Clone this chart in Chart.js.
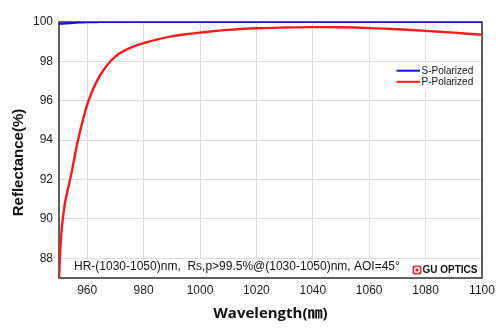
<!DOCTYPE html>
<html>
<head>
<meta charset="utf-8">
<script src="https://cdn.jsdelivr.net/npm/chart.js@4.4.1/dist/chart.umd.min.js"></script>
<style>
  html, body { margin: 0; padding: 0; background: #fff; }
  #wrap { width: 500px; height: 334px; }
</style>
</head>
<body>
<div id="wrap"><canvas id="c" width="500" height="334"></canvas></div>
<script>
// ---- data ----
const wavelengths = [950,950.5,951,952,953,954,955,956,957,958,959,960,961,962,964,966,968,970,972,975,978,980,985,990,995,1000,1010,1020,1030,1040,1050,1060,1070,1080,1090,1100];
const pPolarized  = [87.0,88.5,89.55,90.7,91.4,92.05,92.75,93.5,94.15,94.75,95.3,95.8,96.2,96.56,97.15,97.6,97.97,98.24,98.45,98.67,98.84,98.93,99.12,99.27,99.38,99.46,99.6,99.68,99.72,99.74,99.73,99.69,99.63,99.55,99.46,99.35];
const sPolarized  = [99.9,99.905,99.91,99.92,99.93,99.94,99.95,99.96,99.97,99.975,99.98,99.985,99.988,99.99,99.995,100,100,100,100,100,100,100,100,100,100,100,100,100,100,100,100,100,100,100,100,100];
const seriesLabels = ['S-Polarized', 'P-Polarized'];
const xTickValues = [960,980,1000,1020,1040,1060,1080,1100];
const yTickValues = [88,90,92,94,96,98,100];
const annotationText = 'HR-(1030-1050)nm,  Rs,p>99.5%@(1030-1050)nm, AOI=45°';
const logoText = 'GU OPTICS';
const xTitle = 'Wavelength(㎚)';
const yTitle = 'Reflectance(%)      ';

const toPoints = (xs, ys) => xs.map((x, i) => ({x: x, y: ys[i]}));

const decor = {
  id: 'decor',
  beforeDatasetsDraw(chart) {
    const {ctx, chartArea: a, scales} = chart;
    const y88 = scales.y.getPixelForValue(88);
    const y98 = scales.y.getPixelForValue(98);
    ctx.save();
    ctx.fillStyle = '#fff';
    ctx.fillRect(a.left + 3, y88 + 1, a.right - a.left - 4, a.bottom - y88 - 2);
    ctx.fillRect(393, y98 + 1, a.right - 393 - 1, 28);
    ctx.strokeStyle = '#3a3a3a';
    ctx.lineWidth = 1.6;
    ctx.strokeRect(a.left, a.top, a.right - a.left, a.bottom - a.top);
    ctx.restore();
  },
  afterDatasetsDraw(chart) {
    const {ctx, chartArea: a, data} = chart;
    ctx.save();
    ctx.fillStyle = '#111';
    ctx.font = '12px "Liberation Sans", Arial, sans-serif';
    ctx.textBaseline = 'middle';
    ctx.textAlign = 'left';
    ctx.fillText(annotationText, a.left + 15, 267);
    const ix = 412.5, iy = 265.5, is = 9;
    ctx.fillStyle = '#e8262d';
    ctx.beginPath();
    if (ctx.roundRect) ctx.roundRect(ix, iy, is, is, 2); else ctx.rect(ix, iy, is, is);
    ctx.fill();
    ctx.fillStyle = '#fff';
    ctx.beginPath(); ctx.arc(ix + is/2, iy + is/2, 3.2, 0, Math.PI*2); ctx.fill();
    ctx.fillStyle = '#e8262d';
    ctx.beginPath(); ctx.arc(ix + is/2, iy + is/2, 1.7, 0, Math.PI*2); ctx.fill();
    ctx.fillStyle = '#111';
    ctx.font = 'bold 10px "Liberation Sans", Arial, sans-serif';
    ctx.fillText(logoText, 422.5, 270.5);
    ctx.font = '10px "Liberation Sans", Arial, sans-serif';
    const rows = [70.7, 81.8];
    data.datasets.forEach((ds, i) => {
      const y = rows[i];
      ctx.strokeStyle = ds.borderColor;
      ctx.lineWidth = 2;
      ctx.beginPath(); ctx.moveTo(396.5, y); ctx.lineTo(420, y); ctx.stroke();
      ctx.fillStyle = '#111';
      ctx.fillText(ds.label, 421.5, y + 0.5);
    });
    ctx.restore();
  }
};

new Chart(document.getElementById('c'), {
  type: 'line',
  data: {
    datasets: [
      { label: seriesLabels[0], data: toPoints(wavelengths, sPolarized), borderColor: '#0a14e6', borderWidth: 2, pointRadius: 0, cubicInterpolationMode: 'monotone', fill: false },
      { label: seriesLabels[1], data: toPoints(wavelengths, pPolarized), borderColor: '#ff1a1a', borderWidth: 2.4, pointRadius: 0, tension: 0.4, fill: false }
    ]
  },
  options: {
    responsive: false,
    animation: false,
    devicePixelRatio: 1,
    layout: { padding: { top: 22, right: 18, left: 0, bottom: 0 } },
    plugins: { legend: { display: false }, tooltip: { enabled: false } },
    scales: {
      x: {
        type: 'linear', min: 950, max: 1100,
        afterBuildTicks: s => { s.ticks = xTickValues.map(v => ({value: v})); },
        afterFit: s => { s.height = 56; },
        grid: { color: '#dcdcdc', lineWidth: 1, drawTicks: false },
        border: { display: false },
        ticks: { color: '#1a1a1a', padding: 5, maxRotation: 0, callback: v => String(v), font: { size: 12, family: '"Liberation Sans", Arial, sans-serif' } },
        title: { display: true, text: xTitle, color: '#111', padding: { top: 0, bottom: 11 }, font: { size: 15, weight: 'bold', family: '"Open Sans", "Noto Sans CJK SC", sans-serif' } }
      },
      y: {
        type: 'linear', min: 87, max: 100,
        afterBuildTicks: s => { s.ticks = yTickValues.map(v => ({value: v})); },
        afterFit: s => { s.width = 59; },
        grid: { color: '#dcdcdc', lineWidth: 1, drawTicks: false },
        border: { display: false },
        ticks: { color: '#1a1a1a', padding: 6, callback: v => String(v), font: { size: 12, family: '"Liberation Sans", Arial, sans-serif' } },
        title: { display: true, text: yTitle, color: '#111', padding: { top: 10, bottom: 0 }, font: { size: 15, weight: 'bold', family: '"Liberation Sans", Arial, sans-serif' } }
      }
    }
  },
  plugins: [decor]
});
</script>
</body>
</html>
